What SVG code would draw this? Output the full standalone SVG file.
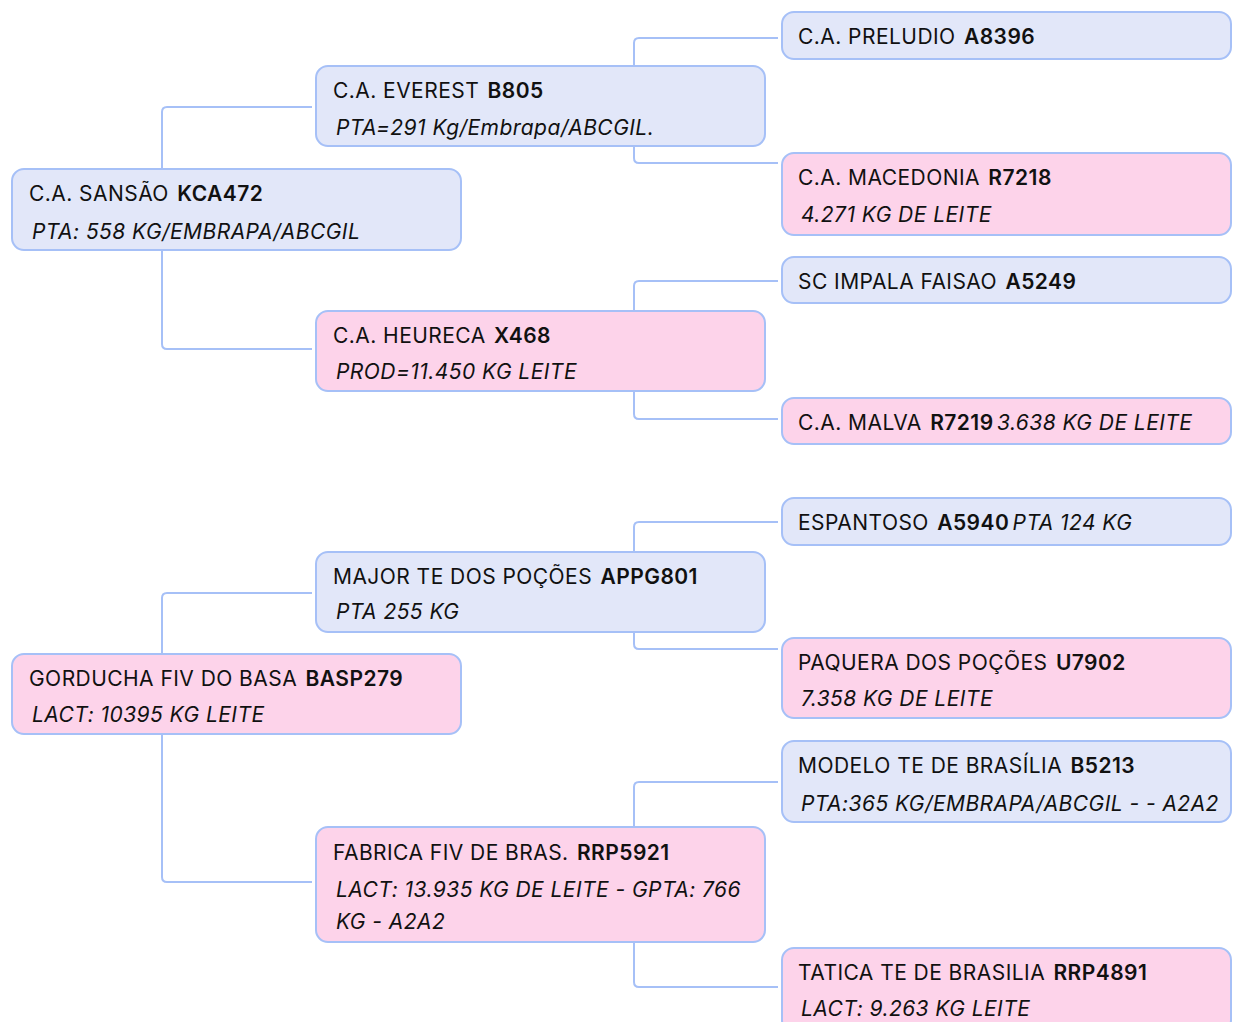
<svg xmlns="http://www.w3.org/2000/svg" width="1251" height="1022" viewBox="0 0 1251 1022">
<style>
.b{fill:#E2E7F9;stroke:#A6C0F7;stroke-width:2}
.p{fill:#FDD3EA;stroke:#A6C0F7;stroke-width:2}
.t{font-family:Inter,"Noto Sans",sans-serif;font-size:21px;letter-spacing:0.45px;fill:#111}
.c{font-weight:600}
.s{font-family:Inter,"Noto Sans",sans-serif;font-size:21px;letter-spacing:0.45px;font-style:italic;fill:#111}
.l{fill:none;stroke:#A6C0F7;stroke-width:2}
</style>
<rect width="1251" height="1022" fill="#fff"/>
<g id="connectors">
<path class="l" d="M162 169V112Q162 107 167 107H312"/>
<path class="l" d="M162 250V344Q162 349 167 349H312"/>
<path class="l" d="M634 66V43Q634 38 639 38H778"/>
<path class="l" d="M634 146V158Q634 163 639 163H778"/>
<path class="l" d="M634 311V286Q634 281 639 281H778"/>
<path class="l" d="M634 391V414Q634 419 639 419H778"/>
<path class="l" d="M162 654V598Q162 593 167 593H312"/>
<path class="l" d="M162 734V877Q162 882 167 882H312"/>
<path class="l" d="M634 552V527Q634 522 639 522H778"/>
<path class="l" d="M634 632V644Q634 649 639 649H778"/>
<path class="l" d="M634 827V787Q634 782 639 782H778"/>
<path class="l" d="M634 942V982Q634 987 639 987H778"/>
</g>
<g id="sansao"><rect class="b" x="12" y="169" width="449" height="81" rx="12"/>
<text class="t" x="29" y="201">C.A. SANSÃO <tspan class="c" dx="2">KCA472</tspan></text>
<text class="s" x="32" y="239">PTA: 558 KG/EMBRAPA/ABCGIL</text></g>
<g id="everest"><rect class="b" x="316" y="66" width="449" height="80" rx="12"/>
<text class="t" x="333" y="98">C.A. EVEREST <tspan class="c" dx="2">B805</tspan></text>
<text class="s" x="336" y="135">PTA=291 Kg/Embrapa/ABCGIL.</text></g>
<g id="heureca"><rect class="p" x="316" y="311" width="449" height="80" rx="12"/>
<text class="t" x="333" y="343">C.A. HEURECA <tspan class="c" dx="2">X468</tspan></text>
<text class="s" x="336" y="379">PROD=11.450 KG LEITE</text></g>
<g id="preludio"><rect class="b" x="782" y="12" width="449" height="47" rx="12"/>
<text class="t" x="798" y="44">C.A. PRELUDIO <tspan class="c" dx="2">A8396</tspan></text></g>
<g id="macedonia"><rect class="p" x="782" y="153" width="449" height="82" rx="12"/>
<text class="t" x="798" y="185">C.A. MACEDONIA <tspan class="c" dx="2">R7218</tspan></text>
<text class="s" x="801" y="222">4.271 KG DE LEITE</text></g>
<g id="impala"><rect class="b" x="782" y="257" width="449" height="46" rx="12"/>
<text class="t" x="798" y="289">SC IMPALA FAISAO <tspan class="c" dx="2">A5249</tspan></text></g>
<g id="malva"><rect class="p" x="782" y="398" width="449" height="46" rx="12"/>
<text class="t" x="798" y="430">C.A. MALVA <tspan class="c" dx="2">R7219</tspan> <tspan class="s" dx="-3">3.638 KG DE LEITE</tspan></text></g>
<g id="gorducha"><rect class="p" x="12" y="654" width="449" height="80" rx="12"/>
<text class="t" x="29" y="686">GORDUCHA FIV DO BASA <tspan class="c" dx="2">BASP279</tspan></text>
<text class="s" x="32" y="722">LACT: 10395 KG LEITE</text></g>
<g id="major"><rect class="b" x="316" y="552" width="449" height="80" rx="12"/>
<text class="t" x="333" y="584">MAJOR TE DOS POÇÕES <tspan class="c" dx="2">APPG801</tspan></text>
<text class="s" x="336" y="619">PTA 255 KG</text></g>
<g id="fabrica"><rect class="p" x="316" y="827" width="449" height="115" rx="12"/>
<text class="t" x="333" y="860">FABRICA FIV DE BRAS. <tspan class="c" dx="2">RRP5921</tspan></text>
<text class="s" x="336" y="897">LACT: 13.935 KG DE LEITE - GPTA: 766</text>
<text class="s" x="336" y="929">KG - A2A2</text></g>
<g id="espantoso"><rect class="b" x="782" y="498" width="449" height="47" rx="12"/>
<text class="t" x="798" y="530">ESPANTOSO <tspan class="c" dx="2">A5940</tspan> <tspan class="s" dx="-3">PTA 124 KG</tspan></text></g>
<g id="paquera"><rect class="p" x="782" y="638" width="449" height="80" rx="12"/>
<text class="t" x="798" y="670">PAQUERA DOS POÇÕES <tspan class="c" dx="2">U7902</tspan></text>
<text class="s" x="801" y="706">7.358 KG DE LEITE</text></g>
<g id="modelo"><rect class="b" x="782" y="741" width="449" height="81" rx="12"/>
<text class="t" x="798" y="773">MODELO TE DE BRASÍLIA <tspan class="c" dx="2">B5213</tspan></text>
<text class="s" x="801" y="811">PTA:365 KG/EMBRAPA/ABCGIL - - A2A2</text></g>
<g id="tatica"><rect class="p" x="782" y="948" width="449" height="84" rx="12"/>
<text class="t" x="798" y="980">TATICA TE DE BRASILIA <tspan class="c" dx="2">RRP4891</tspan></text>
<text class="s" x="801" y="1016">LACT: 9.263 KG LEITE</text></g>
</svg>
